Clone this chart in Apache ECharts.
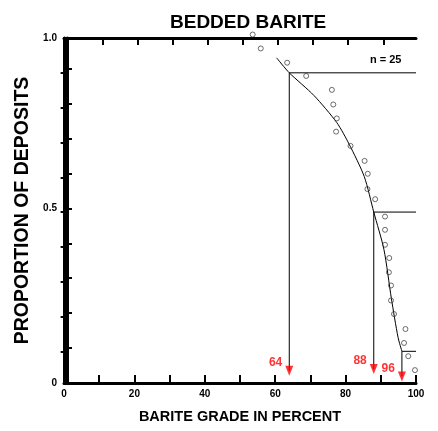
<!DOCTYPE html>
<html>
<head>
<meta charset="utf-8">
<script src="https://cdn.jsdelivr.net/npm/echarts@6/dist/echarts.min.js"></script>
<style>
html,body{margin:0;padding:0;background:#fff;}
#chart{width:438px;height:431px;}
</style>
</head>
<body>
<div id="chart"></div>
<script>
// ---- data ----
const titleText = 'BEDDED BARITE';
const xAxisName = 'BARITE GRADE IN PERCENT';
const yAxisName = 'PROPORTION OF DEPOSITS';
const nText = 'n = 25';
const xTickLabels = ['0', '20', '40', '60', '80', '100'];
const yTickLabels = ['0', '0.5', '1.0'];

// observed deposits (grade %, cumulative proportion)
const gradeX = [53.6, 55.9, 63.4, 68.8, 76.1, 76.5, 77.5, 77.3, 81.4, 85.4, 86.3, 86.2, 88.4,
                91.2, 91.2, 91.2, 92.4, 92.3, 92.9, 92.9, 93.75, 97.0, 96.6, 97.8, 99.7];
const proportionY = [1.01, 0.970, 0.929, 0.891, 0.851, 0.809, 0.769, 0.731, 0.690, 0.647, 0.610, 0.566, 0.537,
                     0.487, 0.449, 0.406, 0.368, 0.327, 0.289, 0.246, 0.207, 0.164, 0.124, 0.086, 0.046];

// fitted curve
const curveX = [60.4, 64, 71.0, 77.5, 81.0, 85.3, 88, 90.9, 93.0, 94.9, 96];
const curveY = [0.943, 0.9, 0.835, 0.757, 0.695, 0.602, 0.5, 0.392, 0.252, 0.140, 0.1];

// percentile cut-offs (90th, 50th, 10th)
const cutGrades = [64, 88, 96];
const cutProps = [0.9, 0.5, 0.1];
const arrowHeadY = [0.044, 0.049, 0.028];

const X_MAX = 100;
const LEFT_Y_MAX = 0.988;
const RIGHT_Y_MIN = 0.009;

const FONT = '"Liberation Sans", Arial, sans-serif';

const chart = echarts.init(document.getElementById('chart'), null, {renderer: 'canvas'});

const series = [];
series.push({
  type: 'scatter', xAxisIndex: 0, yAxisIndex: 1, clip: false,
  symbol: 'circle', symbolSize: 5,
  itemStyle: {color: 'rgba(255,255,255,0)', borderColor: '#333', borderWidth: 0.9},
  data: gradeX.map((x, i) => [x, proportionY[i]]),
  z: 3
});
series.push({
  type: 'line', xAxisIndex: 0, yAxisIndex: 1, smooth: 0.25, symbol: 'none', clip: false,
  lineStyle: {color: '#000', width: 1},
  data: curveX.map((x, i) => [x, curveY[i]]),
  z: 2
});
cutGrades.forEach((g, i) => {
  series.push({
    type: 'line', xAxisIndex: 0, yAxisIndex: 1, symbol: 'none', clip: false,
    lineStyle: {color: '#000', width: 1},
    data: [[X_MAX, cutProps[i]], [g, cutProps[i]], [g, arrowHeadY[i]]],
    z: 2
  });
});
series.push({
  type: 'scatter', xAxisIndex: 0, yAxisIndex: 1, clip: false,
  symbol: 'triangle', symbolRotate: 180, symbolSize: [8, 10],
  itemStyle: {color: '#ff0000'},
  label: {
    show: true, position: 'left', distance: 3, offset: [0, -8],
    formatter: p => String(p.value[0]),
    color: '#ff0000', fontFamily: FONT, fontWeight: 'bold', fontSize: 12
  },
  data: cutGrades.map((g, i) => [g, arrowHeadY[i]]),
  z: 4
});

const axisLineStyle = {show: true, lineStyle: {color: '#000', width: 3}};

chart.setOption({
  animation: false,
  backgroundColor: '#fff',
  title: [
    {text: titleText, left: 165, top: 8,
     textStyle: {fontFamily: FONT, fontWeight: 'bold', fontSize: 19, color: '#000'}},
    {text: nText, left: 365, top: 49,
     textStyle: {fontFamily: FONT, fontWeight: 'bold', fontSize: 11, color: '#000'}}
  ],
  grid: {left: 64, right: 22, top: 38, bottom: 48, containLabel: false, outerBoundsMode: 'none'},
  xAxis: [
    {
      type: 'value', position: 'bottom', min: 0, max: X_MAX, interval: 10,
      axisLine: axisLineStyle,
      axisTick: {show: true, inside: true, length: 8, lineStyle: {color: '#000', width: 2}},
      axisLabel: {
        show: true, margin: 6, color: '#000', fontFamily: FONT, fontWeight: 'bold', fontSize: 10,
        formatter: v => { const s = String(Math.round(v)); return xTickLabels.indexOf(s) >= 0 ? s : ''; }
      },
      splitLine: {show: false},
      name: xAxisName, nameLocation: 'middle', nameGap: 26,
      nameTextStyle: {fontFamily: FONT, fontWeight: 'bold', fontSize: 14.5, color: '#000'}
    },
    {
      type: 'value', position: 'top', min: -1.03, max: 99.33,
      axisLine: axisLineStyle,
      axisTick: {show: true, inside: true, length: 7, lineStyle: {color: '#000', width: 2},
                 customValues: [10, 20, 30, 40, 50, 60, 70, 80, 90]},
      axisLabel: {show: false},
      splitLine: {show: false}
    }
  ],
  yAxis: [
    {
      type: 'value', position: 'left', min: 0, max: LEFT_Y_MAX, interval: 0.1,
      axisLine: axisLineStyle,
      axisTick: {show: true, inside: true, length: 8, lineStyle: {color: '#000', width: 2}},
      axisLabel: {
        show: true, margin: 7, color: '#000', fontFamily: FONT, fontWeight: 'bold', fontSize: 10,
        showMaxLabel: true,
        formatter: v => {
          if (v >= LEFT_Y_MAX - 1e-6) return yTickLabels[2];
          if (Math.abs(v - 0.5) < 1e-6) return yTickLabels[1];
          if (Math.abs(v) < 1e-6) return yTickLabels[0];
          return '';
        }
      },
      splitLine: {show: false},
      name: yAxisName, nameLocation: 'middle', nameRotate: 90, nameGap: 22,
      nameTextStyle: {fontFamily: FONT, fontWeight: 'bold', fontSize: 19.5, color: '#000'}
    },
    {
      type: 'value', position: 'right', min: RIGHT_Y_MIN, max: 1,
      axisLine: axisLineStyle,
      axisTick: {show: true, inside: true, length: 7, lineStyle: {color: '#000', width: 2},
                 customValues: [0.1, 0.2, 0.3, 0.4, 0.5, 0.6, 0.7, 0.8, 0.9]},
      axisLabel: {show: false},
      splitLine: {show: false}
    }
  ],
  series: series
});
</script>
</body>
</html>
